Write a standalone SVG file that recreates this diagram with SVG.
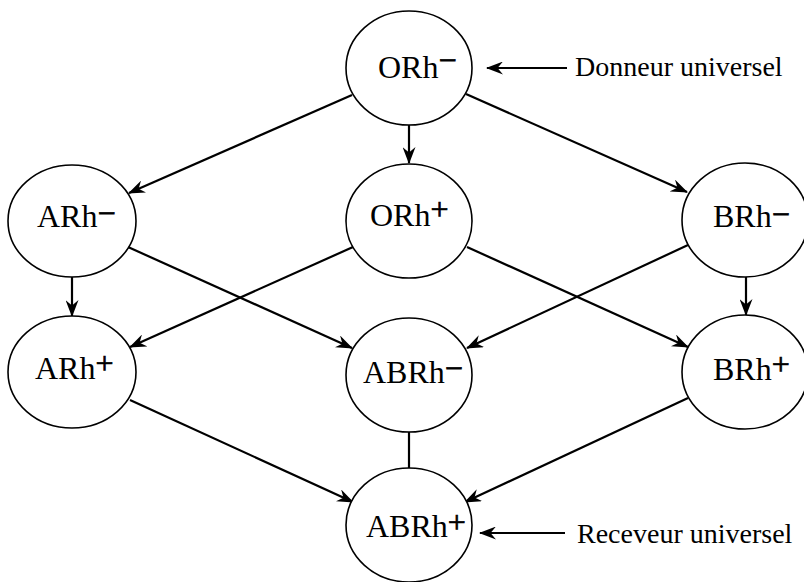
<svg xmlns="http://www.w3.org/2000/svg" width="804" height="582" viewBox="0 0 804 582">
  <style>
    .node ellipse { fill: #fff; stroke: #000; stroke-width: 1.6; }
    .lbl { font-family: "Liberation Serif", "Times New Roman", serif; font-size: 32px; fill: #000; }
    .sup { font-size: 32px; stroke: #000; stroke-width: 0.7; }
    .note { font-family: "Liberation Serif", "Times New Roman", serif; font-size: 28px; fill: #000; }
    .edge { stroke: #000; stroke-width: 2.2; fill: none; }
    .arr { marker-end: url(#head); }
  </style>
  <defs>
    <marker id="head" viewBox="0 0 17 13" refX="16" refY="6.5" markerWidth="17" markerHeight="13" markerUnits="userSpaceOnUse" orient="auto">
      <path d="M0,0 L17,6.5 L0,13 L5.5,6.5 z" fill="#000"/>
    </marker>
  </defs>

  <g id="edges">
    <line class="edge arr" x1="352" y1="95" x2="129" y2="193"/>
    <line class="edge arr" x1="409" y1="125" x2="409" y2="163"/>
    <line class="edge arr" x1="466" y1="94" x2="687" y2="192"/>
    <line class="edge arr" x1="72" y1="277" x2="72" y2="316"/>
    <line class="edge arr" x1="128" y1="247" x2="352" y2="348"/>
    <line class="edge arr" x1="353" y1="247" x2="130" y2="347"/>
    <line class="edge arr" x1="467" y1="247" x2="688" y2="347"/>
    <line class="edge arr" x1="688" y1="245" x2="467" y2="348"/>
    <line class="edge arr" x1="746" y1="277" x2="746" y2="315"/>
    <line class="edge arr" x1="130" y1="400" x2="353" y2="502"/>
    <line class="edge arr" x1="688" y1="398" x2="465" y2="502"/>
    <line class="edge" x1="409" y1="432" x2="409" y2="468"/>
    <line class="edge arr" x1="567" y1="68" x2="487" y2="68"/>
    <line class="edge arr" x1="565" y1="533" x2="480" y2="533"/>
  </g>

  <g id="ORh-neg" class="node">
    <ellipse cx="409" cy="68" rx="63" ry="57"/>
    <text class="lbl" x="378" y="78">ORh<tspan class="sup" dy="-7">−</tspan></text>
  </g>
  <g id="ARh-neg" class="node">
    <ellipse cx="72" cy="221" rx="64" ry="56"/>
    <text class="lbl" x="37" y="227">ARh<tspan class="sup" dy="-3">−</tspan></text>
  </g>
  <g id="ORh-pos" class="node">
    <ellipse cx="409" cy="221" rx="63" ry="57"/>
    <text class="lbl" x="370" y="226">ORh<tspan class="sup" dy="-6">+</tspan></text>
  </g>
  <g id="BRh-neg" class="node">
    <ellipse cx="745" cy="220" rx="63" ry="57"/>
    <text class="lbl" x="713" y="227">BRh<tspan class="sup" dy="-2">−</tspan></text>
  </g>
  <g id="ARh-pos" class="node">
    <ellipse cx="72" cy="372" rx="64" ry="56"/>
    <text class="lbl" x="35" y="379">ARh<tspan class="sup" dy="-5">+</tspan></text>
  </g>
  <g id="ABRh-neg" class="node">
    <ellipse cx="409" cy="375" rx="63" ry="57"/>
    <text class="lbl" x="363" y="383">ABRh<tspan class="sup" dy="-4">−</tspan></text>
  </g>
  <g id="BRh-pos" class="node">
    <ellipse cx="745" cy="372" rx="63" ry="57"/>
    <text class="lbl" x="713" y="380">BRh<tspan class="sup" dy="-5">+</tspan></text>
  </g>
  <g id="ABRh-pos" class="node">
    <ellipse cx="409" cy="525" rx="63" ry="57"/>
    <text class="lbl" x="366" y="537">ABRh<tspan class="sup" dy="-4">+</tspan></text>
  </g>

  <g id="notes">
    <text class="note" x="575" y="76">Donneur universel</text>
    <text class="note" x="577" y="543">Receveur universel</text>
  </g>
</svg>
